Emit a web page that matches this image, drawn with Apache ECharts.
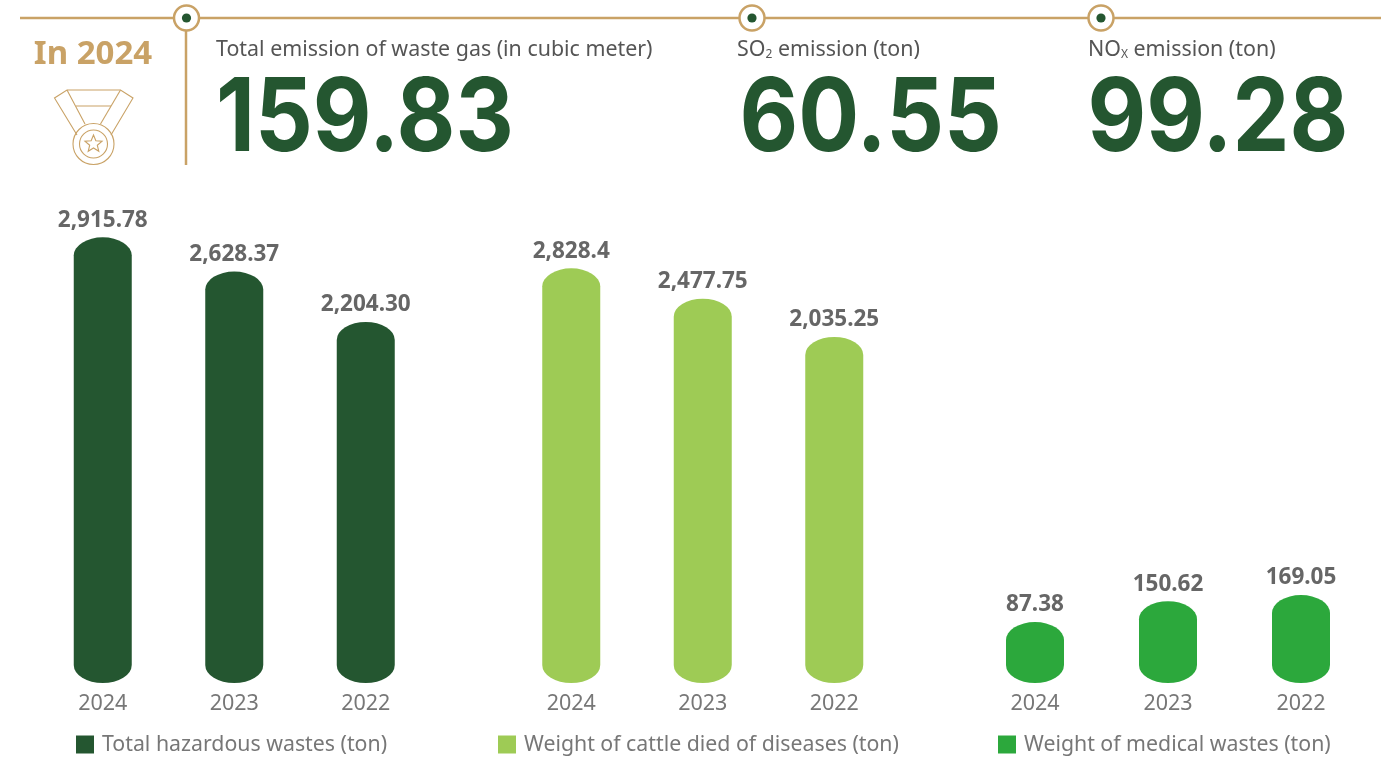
<!DOCTYPE html>
<html><head><meta charset="utf-8">
<style>html,body{margin:0;padding:0;background:#fff}#c{width:1399px;height:765px}</style>
<script src="https://cdn.jsdelivr.net/npm/echarts@6/dist/echarts.min.js"></script>
</head><body><div id="c"></div>
<script>
const years = ['2024','2023','2022'];
const hazardousValues = [2915.78, 2628.37, 2204.30];
const hazardousLabels = ['2,915.78','2,628.37','2,204.30'];
const cattleValues = [2828.4, 2477.75, 2035.25];
const cattleLabels = ['2,828.4','2,477.75','2,035.25'];
const medicalValues = [87.38, 150.62, 169.05];
const medicalLabels = ['87.38','150.62','169.05'];
const seriesNames = ['Total hazardous wastes (ton)','Weight of cattle died of diseases (ton)','Weight of medical wastes (ton)'];
const kpiYear = 'In 2024';
const kpiValues = ['159.83','60.55','99.28'];

const DARK='#245630', LIME='#9ECB55', GREEN='#2CA83C', GOLD='#C9A266';
const FONT='"Noto Sans", Roboto, sans-serif';

function panel(i,name,values,labels,color){
  return {
    name, type:'custom', xAxisIndex:i, yAxisIndex:i,
    itemStyle:{color},
    data: values.map((v,k)=>[k,v,labels[k]]),
    encode:{x:0,y:1},
    clip:false,
    renderItem(params,api){
      const top=api.coord([api.value(0),api.value(1)]);
      const cs=params.coordSys;
      const bottom=cs.y+cs.height;
      const rx=29, ry=18;
      const l=top[0]-rx, r=top[0]+rx;
      const d=`M${l} ${top[1]+ry}A${rx} ${ry} 0 0 1 ${r} ${top[1]+ry}L${r} ${bottom-ry}A${rx} ${ry} 0 0 1 ${l} ${bottom-ry}Z`;
      return {type:'group',children:[
        {type:'path',shape:{pathData:d,layout:'cover',x:l,y:top[1],width:rx*2,height:bottom-top[1]},style:{fill:color}},
        {type:'text',style:{text:labels[api.value(0)],x:top[0],y:top[1]-17,align:'center',verticalAlign:'middle',
          font:'700 22.5px '+FONT,fill:'#666666'}}
      ]};
    }
  };
}
const grids=[
  {left:37,width:394.5,top:200,height:483},
  {left:505.5,width:394.5,top:200,height:483},
  {left:968.5,width:399,top:200,height:483}
];
const ranges=[[-832,3230],[-1972,3620],[-97,1364]];

function dot(x){return [
  {type:'circle',shape:{cx:x,cy:18,r:12.5},style:{fill:'#fff',stroke:GOLD,lineWidth:2.5},z:5},
  {type:'circle',shape:{cx:x,cy:18,r:4.6},style:{fill:DARK},z:6}
];}
function big(x,t,sx){return {type:'text',x:x,y:120,scaleX:sx,z:5,
  style:{text:t,font:'700 102px Inter, Roboto, sans-serif',fill:DARK,verticalAlign:'middle',align:'left'}};}
function star(cx,cy,R,r){const p=[];for(let i=0;i<10;i++){const a=-Math.PI/2+i*Math.PI/5,q=i%2?r:R;p.push([cx+q*Math.cos(a),cy+q*Math.sin(a)]);}return p;}
const medalLine={stroke:GOLD,lineWidth:1.1,fill:'none'};
const rich={a:{font:'400 21.4px '+FONT,fill:'#555555'},b:{font:'400 12px '+FONT,fill:'#555555',verticalAlign:'bottom',padding:[9,0,0,0]}};
const legendText={fontFamily:FONT,fontSize:21.3,color:'#777777',padding:[0,0,0,3]};

const chart=echarts.init(document.getElementById('c'),null,{renderer:'canvas'});
chart.setOption({
  animation:false,
  backgroundColor:'#fff',
  grid:grids,
  xAxis:grids.map((g,i)=>({gridIndex:i,type:'category',data:years,axisLine:{show:false},axisTick:{show:false},
    axisLabel:{fontFamily:FONT,fontSize:21.5,color:'#777777',margin:10}})),
  yAxis:ranges.map((r,i)=>({gridIndex:i,type:'value',min:r[0],max:r[1],show:false})),
  legend:[
    {left:71,top:729,icon:'rect',itemWidth:18,itemHeight:18,data:[seriesNames[0]],textStyle:legendText},
    {left:493,top:729,icon:'rect',itemWidth:18,itemHeight:18,data:[seriesNames[1]],textStyle:legendText},
    {left:993,top:729,icon:'rect',itemWidth:18,itemHeight:18,data:[seriesNames[2]],textStyle:legendText}
  ],
  series:[
    panel(0,seriesNames[0],hazardousValues,hazardousLabels,DARK),
    panel(1,seriesNames[1],cattleValues,cattleLabels,LIME),
    panel(2,seriesNames[2],medicalValues,medicalLabels,GREEN)
  ],
  graphic:{elements:[
    {type:'line',shape:{x1:20,y1:18,x2:1381,y2:18},style:{stroke:GOLD,lineWidth:2.5},z:4},
    {type:'line',shape:{x1:186,y1:30,x2:186,y2:165},style:{stroke:GOLD,lineWidth:2.5},z:4},
    ...dot(186.5),...dot(752),...dot(1101),
    {type:'text',x:93,y:55,z:5,style:{text:kpiYear,font:'700 33px '+FONT,fill:GOLD,align:'center',verticalAlign:'middle'}},
    {type:'polyline',shape:{points:[[77,135],[54.5,98],[67,90],[120.5,90],[133,98],[111,135]]},style:medalLine},
    {type:'polyline',shape:{points:[[67,90],[85,124]]},style:medalLine},
    {type:'polyline',shape:{points:[[120.5,90],[100.5,124]]},style:medalLine},
    {type:'line',shape:{x1:76,y1:106,x2:111,y2:106},style:medalLine},
    {type:'circle',shape:{cx:93.5,cy:144,r:20.5},style:medalLine},
    {type:'circle',shape:{cx:93.5,cy:144,r:14},style:medalLine},
    {type:'polygon',shape:{points:star(93.5,144,9,4)},style:medalLine},
    {type:'text',x:216,y:50,z:5,style:{text:'{a|Total emission of waste gas (in cubic meter)}',rich,verticalAlign:'middle'}},
    {type:'text',x:737,y:50,z:5,style:{text:'{a|SO}{b|2}{a| emission (ton)}',rich,verticalAlign:'middle'}},
    {type:'text',x:1088,y:50,z:5,style:{text:'{a|NO}{b|X}{a| emission (ton)}',rich,verticalAlign:'middle'}},
    big(216,kpiValues[0],0.887),big(739.5,kpiValues[1],0.887),big(1087.5,kpiValues[2],0.887)
  ]}
});
</script></body></html>
